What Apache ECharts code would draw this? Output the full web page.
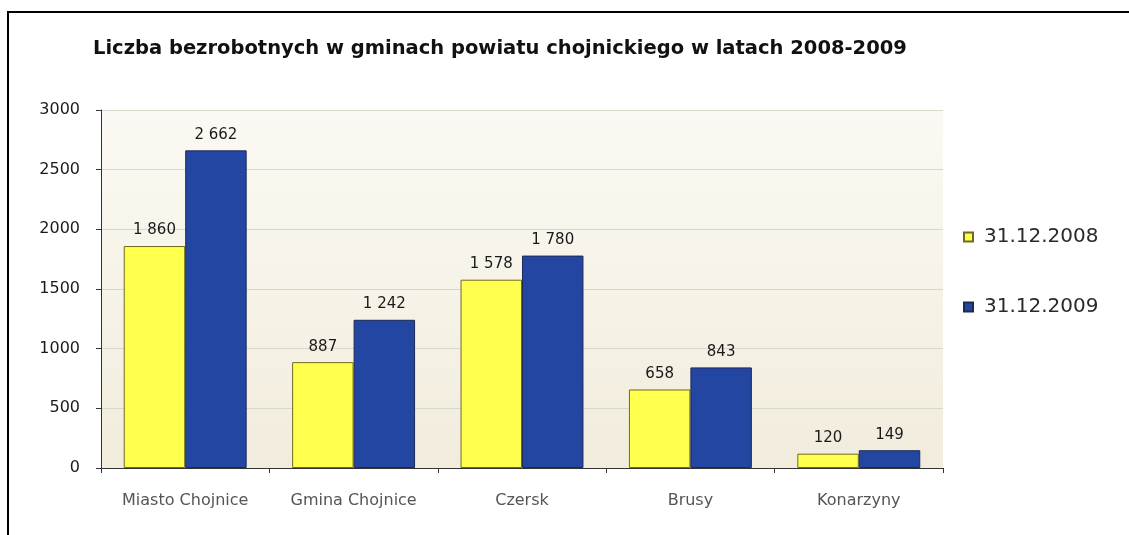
<!DOCTYPE html>
<html>
<head>
<meta charset="utf-8">
<script src="https://cdn.jsdelivr.net/npm/echarts@6/dist/echarts.min.js"></script>
<style>
  html, body { margin: 0; padding: 0; background: #fff; }
  #frame {
    position: absolute; left: 7px; top: 11px; width: 1122px; height: 524px;
    border-top: 2px solid #000; border-left: 2px solid #000;
  }
  #chart { position: absolute; left: 0; top: 0; width: 1129px; height: 535px; }
</style>
</head>
<body>
<div id="frame"></div>
<div id="chart"></div>
<script>
// dane
const categories = ["Miasto Chojnice", "Gmina Chojnice", "Czersk", "Brusy", "Konarzyny"];
const values2008 = [1860, 887, 1578, 658, 120];
const values2009 = [2662, 1242, 1780, 843, 149];
const seriesNames = ["31.12.2008", "31.12.2009"];
const yTicks = [0, 500, 1000, 1500, 2000, 2500, 3000];

const chart = echarts.init(document.getElementById("chart"));
const FONT = "DejaVu Sans, Verdana, sans-serif";

// format liczb ze spacją jako separatorem tysięcy
function fmt(v) {
  return String(v).replace(/\B(?=(\d{3})+(?!\d))/g, " ");
}

const labelStyle = {
  show: true,
  position: "top",
  distance: 8,
  color: "#1a1a1a",
  fontFamily: FONT,
  fontSize: 15,
  formatter: (p) => fmt(p.value),
};

chart.setOption({
  animation: false,
  title: {
    text: "Liczba bezrobotnych w gminach powiatu chojnickiego w latach 2008-2009",
    left: 88,
    top: 34,
    textStyle: {
      fontFamily: FONT,
      fontWeight: "bold",
      fontSize: 19.5,
      color: "#111",
    },
  },
  legend: {
    orient: "vertical",
    left: 958,
    top: 222,
    itemGap: 50,
    itemWidth: 9,
    itemHeight: 9,
    icon: "rect",
    textStyle: { fontFamily: FONT, fontSize: 20, color: "#2a2a2a", padding: [0, 0, 0, 6] },
    data: seriesNames,
  },
  grid: {
    left: 101,
    right: 1129 - 943,
    top: 110,
    bottom: 535 - 468,
    show: true,
    borderWidth: 0,
    backgroundColor: {
      type: "linear", x: 0, y: 0, x2: 0, y2: 1,
      colorStops: [
        { offset: 0, color: "#fbf9f3" },
        { offset: 1, color: "#f1ecdc" },
      ],
    },
  },
  xAxis: {
    type: "category",
    data: categories,
    axisLine: { lineStyle: { color: "#333", width: 1 } },
    axisTick: { show: true, length: 5, lineStyle: { color: "#333" } },
    axisLabel: {
      margin: 25,
      color: "#555",
      fontFamily: FONT,
      fontSize: 16,
    },
  },
  yAxis: {
    type: "value",
    min: yTicks[0],
    max: yTicks[yTicks.length - 1],
    interval: 500,
    axisLine: { show: true, lineStyle: { color: "#333" } },
    axisTick: { show: true, inside: false, length: 5, lineStyle: { color: "#333" } },
    splitLine: { lineStyle: { color: "#d9d6cc", width: 1 } },
    axisLabel: {
      margin: 21,
      color: "#1a1a1a",
      fontFamily: FONT,
      fontSize: 16,
      formatter: (v) => String(v),
    },
  },
  series: [
    {
      name: seriesNames[0],
      type: "bar",
      data: values2008,
      barGap: "0%",
      barCategoryGap: "27%",
      itemStyle: { color: "#ffff4d", borderColor: "#6f6a1e", borderWidth: 1 },
      label: labelStyle,
    },
    {
      name: seriesNames[1],
      type: "bar",
      data: values2009,
      barGap: "0%",
      barCategoryGap: "27%",
      itemStyle: { color: "#2346a3", borderColor: "#1c2a55", borderWidth: 1 },
      label: labelStyle,
    },
  ],
});
</script>
</body>
</html>
